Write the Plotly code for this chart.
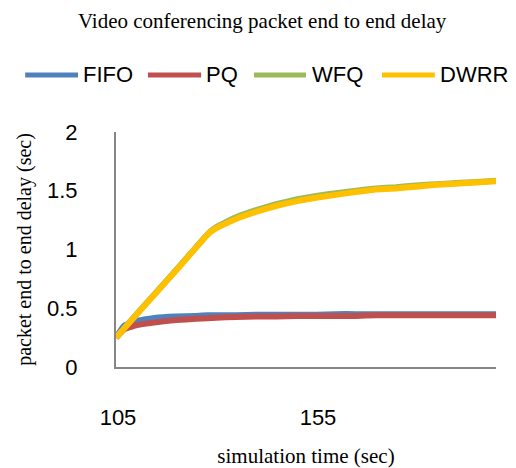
import plotly.graph_objects as go

# simulation time (sec)
time = [105, 107, 110, 115, 120, 125, 128, 130, 135, 140, 145, 150, 155,
        160, 165, 170, 175, 180, 185, 190, 195, 200]

# end-to-end delay (sec) per queuing discipline
fifo = [0.25, 0.35, 0.39, 0.42, 0.43, 0.435, 0.44, 0.44, 0.44, 0.445, 0.445, 0.445, 0.445,
        0.45, 0.45, 0.45, 0.45, 0.45, 0.45, 0.45, 0.45, 0.45]
pq = [0.25, 0.32, 0.355, 0.38, 0.40, 0.41, 0.415, 0.42, 0.425, 0.43, 0.43, 0.435, 0.435,
      0.435, 0.435, 0.44, 0.44, 0.44, 0.44, 0.44, 0.44, 0.44]
wfq = [0.25, 0.33, 0.445, 0.635, 0.825, 1.02, 1.135, 1.19, 1.275, 1.335, 1.385, 1.425, 1.455,
       1.48, 1.50, 1.52, 1.53, 1.545, 1.555, 1.565, 1.575, 1.585]
dwrr = [0.25, 0.325, 0.44, 0.63, 0.82, 1.015, 1.13, 1.18, 1.26, 1.32, 1.37, 1.41, 1.44,
        1.465, 1.49, 1.51, 1.52, 1.535, 1.55, 1.56, 1.57, 1.58]

names = ["FIFO", "PQ", "WFQ", "DWRR"]
series = [fifo, pq, wfq, dwrr]
colors = ["#4F81BD", "#C0504D", "#9BBB59", "#FFC000"]

x_ticks = [105, 155]
y_ticks = [0, 0.5, 1, 1.5, 2]
y_ticktext = ["0", "0.5", "1", "1.5", "2"]

fig = go.Figure()
for name, ys, col in zip(names, series, colors):
    fig.add_trace(go.Scatter(
        x=time, y=ys, name=name, mode="lines",
        line=dict(color=col, width=6, shape="spline", smoothing=0.3),
        showlegend=False,
    ))

# legend drawn as a row of line samples with labels (paper coordinates)
legend_line_x0 = [-0.239, 0.084, 0.363, 0.700]
legend_line_x1 = [-0.100, 0.224, 0.500, 0.839]
legend_text_x = [-0.092, 0.231, 0.510, 0.847]
legend_y = 1.243
for name, col, a, b, tx in zip(names, colors, legend_line_x0, legend_line_x1, legend_text_x):
    fig.add_shape(type="line", xref="paper", yref="paper",
                  x0=a, x1=b, y0=legend_y, y1=legend_y,
                  line=dict(color=col, width=5))
    fig.add_annotation(text=name, xref="paper", yref="paper",
                       x=tx, y=legend_y, xanchor="left", yanchor="middle",
                       showarrow=False,
                       font=dict(family="Liberation Sans", size=22, color="#000"))

fig.update_layout(
    width=516, height=468,
    margin=dict(l=116, r=20, t=132, b=101, autoexpand=False),
    paper_bgcolor="white", plot_bgcolor="white",
    title=dict(text="Video conferencing packet end to end delay",
               x=0.508, xanchor="center", y=0.955, yanchor="middle",
               font=dict(family="Liberation Serif", size=21, color="#000")),
    xaxis=dict(range=[105, 200], tickvals=x_ticks, ticks="",
               showgrid=False, zeroline=False, automargin=False,
               showline=True, linecolor="#868686", linewidth=2,
               ticklabelstandoff=30, ticklabelshift=2,
               tickfont=dict(family="Liberation Sans", size=22, color="#000"),
               title=dict(text="simulation time (sec)", standoff=33,
                          font=dict(family="Liberation Serif", size=21, color="#000"))),
    yaxis=dict(range=[0, 2], tickvals=y_ticks, ticktext=y_ticktext, ticks="",
               showgrid=False, zeroline=False, automargin=False,
               showline=True, linecolor="#868686", linewidth=2,
               ticklabelstandoff=32,
               tickfont=dict(family="Liberation Sans", size=22, color="#000"),
               title=dict(text="packet end to end delay (sec)", standoff=10,
                          font=dict(family="Liberation Serif", size=20, color="#000"))),
)

fig.write_html("out.html")
